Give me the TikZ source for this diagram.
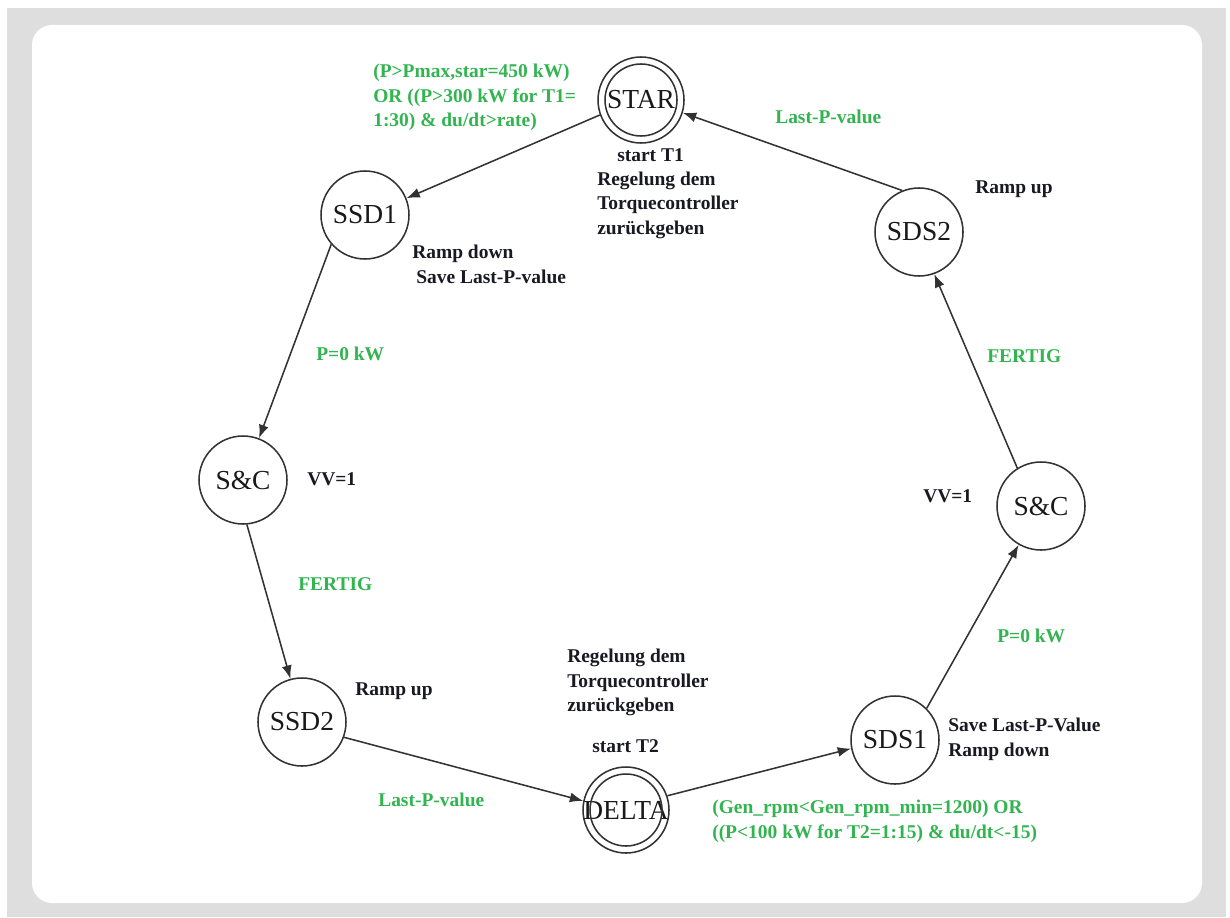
\documentclass[tikz,border=0pt]{standalone}
\usepackage{fontspec}
\setmainfont{Liberation Serif}
\usetikzlibrary{arrows.meta}
\definecolor{lblgreen}{RGB}{50,180,80}
\definecolor{framegray}{RGB}{222,222,222}
\definecolor{edgegray}{RGB}{50,50,50}
\definecolor{lbldark}{RGB}{25,25,35}
\begin{document}
\begin{tikzpicture}[x=0.75pt,y=-0.75pt,
  state/.style={circle,draw=edgegray,line width=1.15pt,minimum size=66pt,inner sep=0pt,
    font=\fontsize{20.6}{24}\selectfont,text=black!90},
  accept/.style={state,minimum size=64.5pt},
  edge/.style={draw=edgegray,line width=1.15pt,-{Latex[length=10pt,width=7.5pt]}},
  glabel/.style={inner sep=0pt,text=lblgreen,font=\fontsize{14.6}{18.3}\selectfont\bfseries,align=left},
  blabel/.style={inner sep=0pt,text=lbldark,font=\fontsize{14.6}{18.3}\selectfont\bfseries,align=left}
]
\useasboundingbox (0,0) rectangle (1230,917);
\fill[framegray] (7,8) rectangle (1226,917);
\fill[white,rounded corners=15pt] (32,25) rectangle (1202,903);

% states
\node[accept] (STAR)  at (641,100) {\makebox[0pt]{STAR}};
\draw[edgegray,line width=1.15pt] (STAR.center) circle[radius=27pt];
\node[state]  (SSD1)  at (365,215) {\makebox[0pt]{SSD1}};
\node[state]  (SC1)   at (243,480) {\makebox[0pt]{S\&C}};
\node[state]  (SSD2)  at (302,722) {\makebox[0pt]{SSD2}};
\node[accept] (DELTA) at (626,810) {\makebox[0pt]{\raisebox{-5pt}{DELTA}}};
\draw[edgegray,line width=1.15pt] (DELTA.center) circle[radius=27pt];
\node[state]  (SDS1)  at (895,740) {\makebox[0pt]{SDS1}};
\node[state]  (SC2)   at (1041,506) {\makebox[0pt]{S\&C}};
\node[state]  (SDS2)  at (919,232) {\makebox[0pt]{SDS2}};

% transitions
\path[edge] (STAR.200) -- (SSD1.22);
\path[edge] (SSD1.221) -- (SC1.69);
\path[edge] (SC1.275) -- (SSD2.105);
\path[edge] (SSD2.340) -- (DELTA.168);
\path[edge] (DELTA.19) -- (SDS1.191);
\path[edge] (SDS1.45) -- (SC2.240);
\path[edge] (SC2.122) -- (SDS2.290);
\path[edge] (SDS2.112) -- (STAR.343);

% green transition labels
\node[glabel,anchor=north west] (g1) at (373,64) {(P>Pmax,star=450 kW)\\OR ((P>300 kW for T1=\\1:30) \& du/dt>rate)};
\node[glabel,anchor=base west] (g2) at (316,360) {P=0 kW};
\node[glabel,anchor=base west] (g3) at (298,590) {FERTIG};
\node[glabel,anchor=base west] (g4) at (378,806) {Last-P-value};
\node[glabel,anchor=north west] (g5) at (712,800) {(Gen\_rpm<Gen\_rpm\_min=1200) OR\\((P<100 kW for T2=1:15) \& du/dt<-15)};
\node[glabel,anchor=base west] (g6) at (997,642) {P=0 kW};
\node[glabel,anchor=base west] (g7) at (987,362) {FERTIG};
\node[glabel,anchor=base west] (g8) at (775,123) {Last-P-value};

% black state labels
\node[blabel,anchor=north west] (b1) at (597,148) {\hspace*{15pt}start T1\\Regelung dem\\Torquecontroller\\zurückgeben};
\node[blabel,anchor=north west] (b2) at (412,245) {Ramp down\\\hspace*{3pt}Save Last-P-value};
\node[blabel,anchor=base west] (b3) at (307,485) {VV=1};
\node[blabel,anchor=base west] (b4) at (355,695) {Ramp up};
\node[blabel,anchor=north west] (b5) at (567,649) {Regelung dem\\Torquecontroller\\zurückgeben};
\node[blabel,anchor=base west] (b6) at (592,752) {start T2};
\node[blabel,anchor=north west] (b7) at (948,718) {Save Last-P-Value\\Ramp down};
\node[blabel,anchor=base west] (b8) at (923,502) {VV=1};
\node[blabel,anchor=base west] (b9) at (975,193) {Ramp up};
\end{tikzpicture}
\end{document}
